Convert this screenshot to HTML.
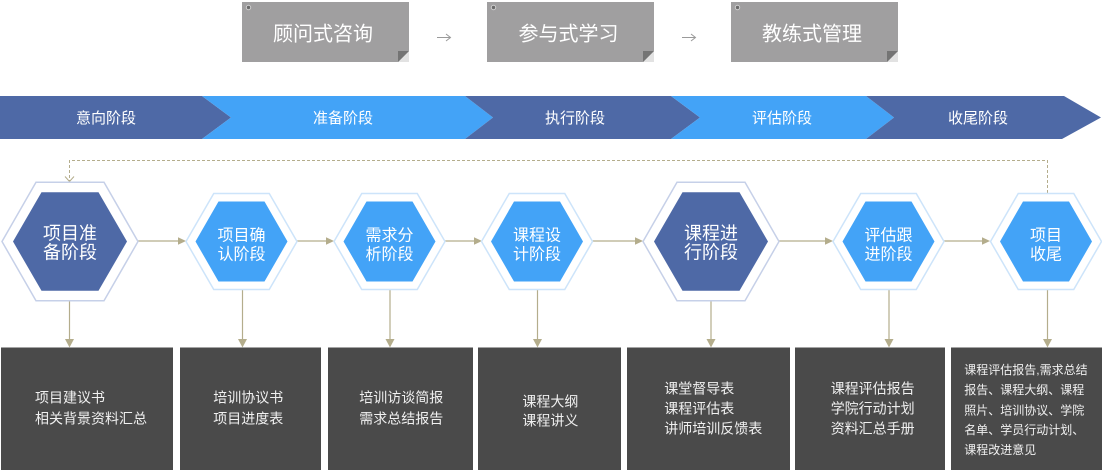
<!DOCTYPE html>
<html>
<head>
<meta charset="utf-8">
<style>
  html, body { margin:0; padding:0; background:#ffffff; }
  body { width:1102px; height:470px; overflow:hidden; position:relative; }
  svg { position:absolute; left:0; top:0; }
  text { font-family: "Liberation Sans", "Noto Sans CJK SC", "WenQuanYi Zen Hei", sans-serif; }
</style>
</head>
<body>
<svg width="1102" height="470" viewBox="0 0 1102 470" xmlns="http://www.w3.org/2000/svg">
  <!-- ===== Top gray note boxes ===== -->
  <g>
    <rect x="242" y="2" width="167" height="60" fill="#a09fa0"/>
    <polygon points="398,62 409,51 409,62" fill="#e2e2e2"/>
    <polygon points="398,62 409,51 398,51" fill="#747474"/>
    <circle cx="248.5" cy="7.5" r="2.2" fill="#6a6a6a" stroke="#cfcfcf" stroke-width="1"/>
    <text x="323" y="40.6" font-size="20" fill="#ffffff" text-anchor="middle">顾问式咨询</text>

    <rect x="487" y="2" width="167" height="60" fill="#a09fa0"/>
    <polygon points="643,62 654,51 654,62" fill="#e2e2e2"/>
    <polygon points="643,62 654,51 643,51" fill="#747474"/>
    <circle cx="493.5" cy="7.5" r="2.2" fill="#6a6a6a" stroke="#cfcfcf" stroke-width="1"/>
    <text x="568.5" y="40.6" font-size="20" fill="#ffffff" text-anchor="middle">参与式学习</text>

    <rect x="731" y="2" width="167" height="60" fill="#a09fa0"/>
    <polygon points="887,62 898,51 898,62" fill="#e2e2e2"/>
    <polygon points="887,62 898,51 887,51" fill="#747474"/>
    <circle cx="737.5" cy="7.5" r="2.2" fill="#6a6a6a" stroke="#cfcfcf" stroke-width="1"/>
    <text x="812" y="40.6" font-size="20" fill="#ffffff" text-anchor="middle">教练式管理</text>

    <!-- small arrows between boxes -->
    <g stroke="#9a9a9a" stroke-width="1" fill="none">
      <path d="M437 37.5 H450 M446 34 L450.5 37.5 L446 41"/>
      <path d="M682 37.5 H695 M691 34 L695.5 37.5 L691 41"/>
    </g>
  </g>

  <!-- ===== Chevron band ===== -->
  <g>
    <polygon points="0,96 202,96 231,117.5 202,139 0,139" fill="#4e69a6"/>
    <polygon points="202,96 465,96 493,117.5 465,139 202,139 231,117.5" fill="#43a3f7"/>
    <polygon points="465,96 671,96 700,117.5 671,139 465,139 493,117.5" fill="#4e69a6"/>
    <polygon points="671,96 866,96 894,117.5 866,139 671,139 700,117.5" fill="#43a3f7"/>
    <polygon points="866,96 1064,96 1101,117.5 1062,139 866,139 894,117.5" fill="#4e69a6"/>
    <g font-size="15" fill="#ffffff" text-anchor="middle">
      <text x="106" y="123.2">意向阶段</text>
      <text x="343" y="123.2">准备阶段</text>
      <text x="575" y="123.2">执行阶段</text>
      <text x="782" y="123.2">评估阶段</text>
      <text x="978" y="123.2">收尾阶段</text>
    </g>
  </g>

  <!-- ===== Dashed feedback connector ===== -->
  <g stroke="#b4ad8c" stroke-width="1" fill="none">
    <path d="M1047.5 193 V160.5 H69.5 V181" stroke-dasharray="3 2"/>
    <polyline points="65,176.5 69.5,181.5 74,176.5"/>
  </g>

  <!-- ===== Solid connectors ===== -->
  <g stroke="#b4ad8c" stroke-width="1.2" fill="none">
    <path d="M138 241 H178"/>
    <path d="M297 241 H326"/>
    <path d="M445 241 H474"/>
    <path d="M592 241 H635"/>
    <path d="M779 241 H825"/>
    <path d="M944 241 H982"/>
    <path d="M69.5 301 V340"/>
    <path d="M242.5 289 V340"/>
    <path d="M390 289 V340"/>
    <path d="M537.5 289 V340"/>
    <path d="M711 301 V340"/>
    <path d="M889 289 V340"/>
    <path d="M1047.5 289 V340"/>
  </g>
  <g fill="#b4ad8c">
    <polygon points="178,237.3 186,241 178,244.7"/>
    <polygon points="326,237.3 334,241 326,244.7"/>
    <polygon points="474,237.3 482,241 474,244.7"/>
    <polygon points="635,237.3 643,241 635,244.7"/>
    <polygon points="825,237.3 833,241 825,244.7"/>
    <polygon points="982,237.3 990,241 982,244.7"/>
    <polygon points="65,339 74,339 69.5,347.5"/>
    <polygon points="238,339 247,339 242.5,347.5"/>
    <polygon points="385.5,339 394.5,339 390,347.5"/>
    <polygon points="533,339 542,339 537.5,347.5"/>
    <polygon points="706.5,339 715.5,339 711,347.5"/>
    <polygon points="884.5,339 893.5,339 889,347.5"/>
    <polygon points="1043,339 1052,339 1047.5,347.5"/>
  </g>

  <!-- ===== Hexagons ===== -->
  <!-- large hex 1 -->
  <polygon points="2,241.5 36,182.2 104,182.2 138,241.5 104,300.8 36,300.8" fill="#ffffff" stroke="#c6d0e8" stroke-width="1.5"/>
  <polygon points="13,241.5 41.5,192.2 98.5,192.2 127,241.5 98.5,290.8 41.5,290.8" fill="#4e69a6"/>
  <g font-size="18" fill="#ffffff" text-anchor="middle">
    <text x="70" y="239.3">项目准</text>
    <text x="70" y="258.3">备阶段</text>
  </g>

  <!-- small hex 2 -->
  <polygon points="186,241.5 213.75,193.5 269.25,193.5 297,241.5 269.25,289.5 213.75,289.5" fill="#ffffff" stroke="#cde4fa" stroke-width="1.5"/>
  <polygon points="195.5,241.5 218.5,201.5 264.5,201.5 287.5,241.5 264.5,281.5 218.5,281.5" fill="#43a3f7"/>
  <!-- small hex 3 -->
  <polygon points="334,241.5 361.75,193.5 417.25,193.5 445,241.5 417.25,289.5 361.75,289.5" fill="#ffffff" stroke="#cde4fa" stroke-width="1.5"/>
  <polygon points="343.5,241.5 366.5,201.5 412.5,201.5 435.5,241.5 412.5,281.5 366.5,281.5" fill="#43a3f7"/>
  <!-- small hex 4 -->
  <polygon points="481.5,241.5 509.25,193.5 564.75,193.5 592.5,241.5 564.75,289.5 509.25,289.5" fill="#ffffff" stroke="#cde4fa" stroke-width="1.5"/>
  <polygon points="491,241.5 514,201.5 560,201.5 583,241.5 560,281.5 514,281.5" fill="#43a3f7"/>

  <!-- large hex 5 -->
  <polygon points="643,241.5 677,182.2 745,182.2 779,241.5 745,300.8 677,300.8" fill="#ffffff" stroke="#c6d0e8" stroke-width="1.5"/>
  <polygon points="654,241.5 682.5,192.2 739.5,192.2 768,241.5 739.5,290.8 682.5,290.8" fill="#4e69a6"/>

  <!-- small hex 6 -->
  <polygon points="833,241.5 860.75,193.5 916.25,193.5 944,241.5 916.25,289.5 860.75,289.5" fill="#ffffff" stroke="#cde4fa" stroke-width="1.5"/>
  <polygon points="842.5,241.5 865.5,201.5 911.5,201.5 934.5,241.5 911.5,281.5 865.5,281.5" fill="#43a3f7"/>
  <!-- small hex 7 -->
  <polygon points="990.5,241.5 1018.25,193.5 1073.75,193.5 1101.5,241.5 1073.75,289.5 1018.25,289.5" fill="#ffffff" stroke="#cde4fa" stroke-width="1.5"/>
  <polygon points="1000,241.5 1023,201.5 1069,201.5 1092,241.5 1069,281.5 1023,281.5" fill="#43a3f7"/>

  <g font-size="16" fill="#ffffff" text-anchor="middle">
    <text x="241.5" y="240.4">项目确</text>
    <text x="241.5" y="259.4">认阶段</text>
    <text x="389.5" y="240.4">需求分</text>
    <text x="389.5" y="259.4">析阶段</text>
    <text x="537" y="240.4">课程设</text>
    <text x="537" y="259.4">计阶段</text>
    <text x="888.5" y="240.4">评估跟</text>
    <text x="888.5" y="259.4">进阶段</text>
    <text x="1046" y="240.4">项目</text>
    <text x="1046" y="259.4">收尾</text>
  </g>
  <g font-size="18" fill="#ffffff" text-anchor="middle">
    <text x="711" y="239.3">课程进</text>
    <text x="711" y="258.3">行阶段</text>
  </g>

  <!-- ===== Bottom dark boxes ===== -->
  <g fill="#4a4a4a">
    <rect x="1" y="347.5" width="172" height="123"/>
    <rect x="180" y="347.5" width="141" height="123"/>
    <rect x="328" y="347.5" width="145" height="123"/>
    <rect x="478" y="347.5" width="143" height="123"/>
    <rect x="627" y="347.5" width="163" height="123"/>
    <rect x="795" y="347.5" width="150" height="123"/>
    <rect x="951" y="347.5" width="151" height="123"/>
  </g>
  <g font-size="14" fill="#f0f0f0">
    <text x="35" y="402.3">项目建议书</text>
    <text x="35" y="423.3">相关背景资料汇总</text>
    <text x="213.3" y="402.3">培训协议书</text>
    <text x="213.3" y="423.3">项目进度表</text>
    <text x="359.3" y="402.3">培训访谈简报</text>
    <text x="359.3" y="423.3">需求总结报告</text>
    <text x="522.4" y="406.3">课程大纲</text>
    <text x="522.4" y="425.3">课程讲义</text>
    <text x="664.3" y="393.6">课堂督导表</text>
    <text x="664.3" y="413.6">课程评估表</text>
    <text x="664.3" y="433.6">讲师培训反馈表</text>
    <text x="830.7" y="393.6">课程评估报告</text>
    <text x="830.7" y="413.6">学院行动计划</text>
    <text x="830.7" y="433.6">资料汇总手册</text>
  </g>
  <g font-size="12" fill="#f0f0f0">
    <text x="964.3" y="374">课程评估报告,需求总结</text>
    <text x="964.3" y="394">报告、课程大纲、课程</text>
    <text x="964.3" y="414.5">照片、培训协议、学院</text>
    <text x="964.3" y="434">名单、学员行动计划、</text>
    <text x="964.3" y="454">课程改进意见</text>
  </g>
</svg>
</body>
</html>
